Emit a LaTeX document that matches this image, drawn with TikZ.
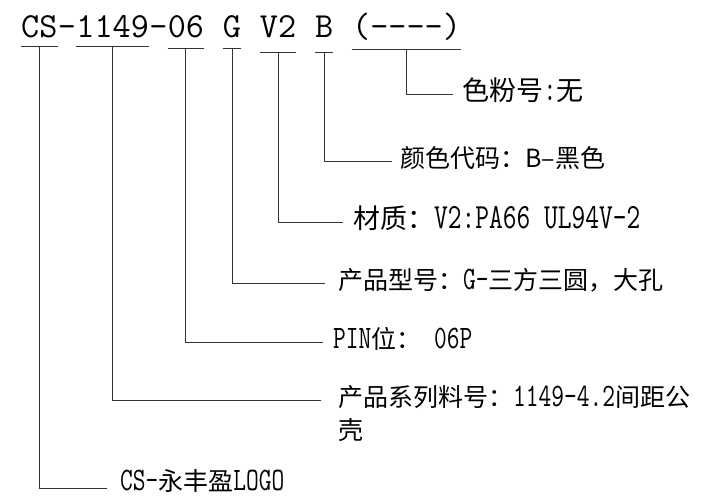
\documentclass[tikz,border=0pt]{standalone}
\usepackage{fontspec}
\newfontfamily\cjk{Noto Sans CJK SC}
\newfontfamily\lat{Latin Modern Mono}[Scale=1.31, FakeStretch=0.755]
\usetikzlibrary{positioning}

\begin{document}
\begin{tikzpicture}[x=1pt,y=-1pt,
		line/.style={line width=0.9pt, black!80},
		seg/.style={anchor=base west, inner sep=0pt, font=\fontsize{35.2}{40}\selectfont\ttfamily},
		lbl/.style={anchor=west, inner xsep=#1, inner ysep=0pt, text height=20pt, text depth=7pt,
			font=\fontsize{25}{30}\selectfont\lat}]
	\useasboundingbox (0,0) rectangle (702,496);

	% part number, one node per segment
	\node[seg] (cs) at (21,37) {CS};
	\node[seg] (d1) at (cs.base east) {\textendash};
	\node[seg] (n1149) at (d1.base east) {1149};
	\node[seg] (d2) at (n1149.base east) {\textendash};
	\node[seg] (n06) at (d2.base east) {06};
	\node[seg] (g) at ([xshift=18.5]n06.base east) {G};
	\node[seg] (v2) at ([xshift=18.5]g.base east) {V2};
	\node[seg] (b) at ([xshift=18.5]v2.base east) {B};
	\node[seg] (pw) at ([xshift=18.5]b.base east) {(\textendash\textendash\textendash\textendash)};

	% explanations
	\node[lbl=9pt, font=\fontsize{27}{32}\selectfont\lat] (lpw) at (453,94) {{\cjk 色粉号}:{\cjk 无}};
	\node[lbl=8pt] (lb) at (392,161) {{\cjk 颜色代码：B\textendash 黑色}};
	\node[lbl=10pt, font=\fontsize{27}{32}\selectfont\lat] (lv2) at (343,222) {{\cjk 材质：}V2:PA66 UL94V\textendash 2};
	\node[lbl=13pt] (lg) at (325,283) {{\cjk 产品型号：}G\textendash{\cjk 三方三圆，大孔}};
	\node[lbl=10pt] (l06) at (323,342) {PIN{\cjk 位：} 06P};
	\node[lbl=17pt] (l1149) at (321,400) {{\cjk 产品系列料号：}1149\textendash 4.2{\cjk 间距公}};
	\node[lbl=17pt, below=6pt of l1149.south west, anchor=north west] (l1149b) {{\cjk 壳}};
	\node[lbl=13pt, text height=9pt, text depth=5pt] (lcs) at (107,488) {CS\textendash{\cjk 永丰盈}LOGO};

	% underlines and leader lines
	\foreach \s/\d/\l in {cs/9/lcs, n1149/9/l1149, n06/11/l06, g/11/lg, v2/15/lv2, b/15/lb, pw/12/lpw}{
		\draw[line] ([yshift=-\d]\s.base west) -- ([yshift=-\d]\s.base east);
		\draw[line] ([yshift=-\d]\s.base) |- (\l.west);
	}
\end{tikzpicture}
\end{document}
